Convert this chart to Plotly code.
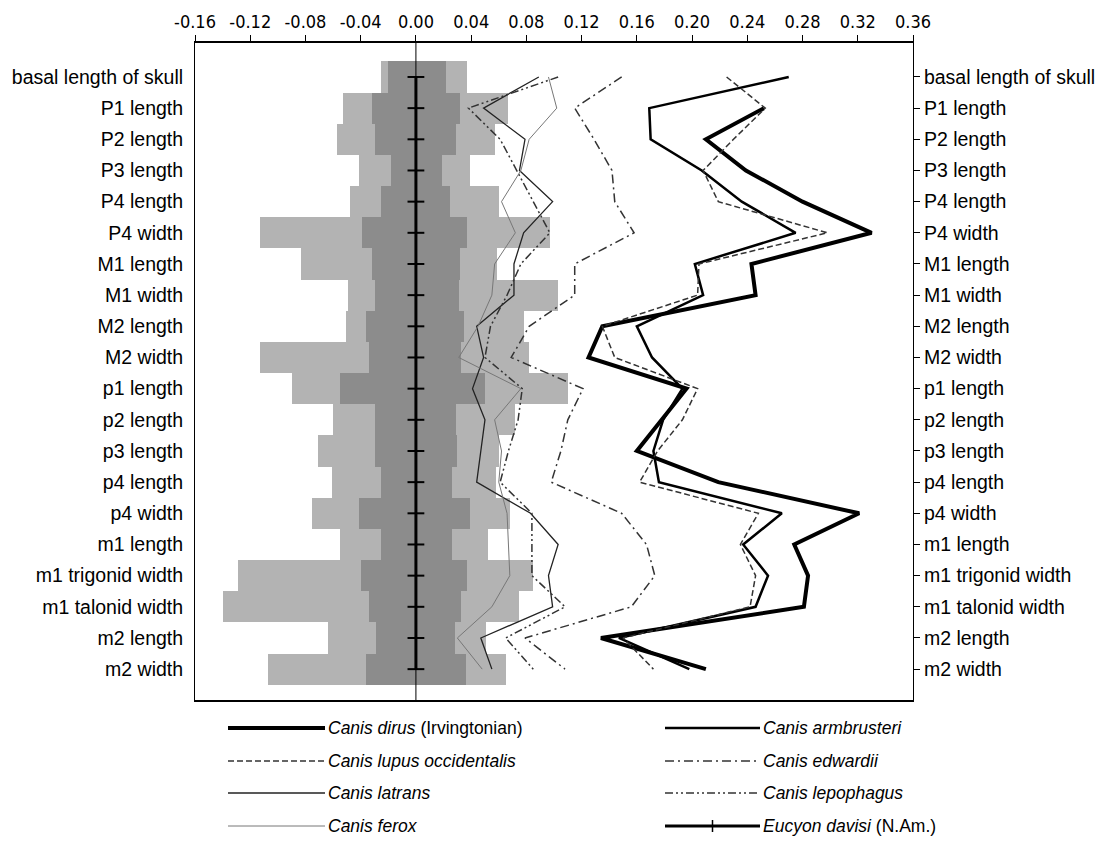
import plotly.graph_objects as go

measures = ["basal length of skull", "P1 length", "P2 length", "P3 length", "P4 length",
            "P4 width", "M1 length", "M1 width", "M2 length", "M2 width",
            "p1 length", "p2 length", "p3 length", "p4 length", "p4 width",
            "m1 length", "m1 trigonid width", "m1 talonid width", "m2 length", "m2 width"]

# grey range bars (outer = light, inner = dark)
light_lo = [-0.025, -0.053, -0.057, -0.041, -0.048, -0.113, -0.083, -0.049, -0.051, -0.113,
            -0.090, -0.060, -0.071, -0.061, -0.075, -0.055, -0.129, -0.140, -0.064, -0.107]
light_hi = [0.037, 0.067, 0.057, 0.039, 0.060, 0.097, 0.059, 0.103, 0.078, 0.082,
            0.110, 0.072, 0.060, 0.058, 0.068, 0.052, 0.085, 0.075, 0.051, 0.065]
dark_lo = [-0.020, -0.032, -0.030, -0.018, -0.025, -0.039, -0.032, -0.030, -0.036, -0.034,
           -0.055, -0.030, -0.030, -0.025, -0.041, -0.025, -0.040, -0.034, -0.029, -0.036]
dark_hi = [0.022, 0.032, 0.029, 0.019, 0.025, 0.037, 0.032, 0.031, 0.035, 0.033,
           0.050, 0.029, 0.030, 0.026, 0.039, 0.026, 0.037, 0.033, 0.028, 0.036]

dirus = [None, 0.252, 0.210, 0.239, 0.280, 0.330, 0.243, 0.246, 0.135, 0.125,
         0.196, 0.178, 0.160, 0.219, 0.321, 0.274, 0.284, 0.281, 0.134, 0.210]
armbrusteri = [0.270, 0.169, 0.170, 0.207, 0.236, 0.275, 0.202, 0.208, 0.160, 0.171,
               0.193, 0.179, 0.172, 0.176, 0.265, 0.237, 0.255, 0.246, 0.147, 0.198]
lupus = [0.225, 0.253, 0.230, 0.208, 0.219, 0.298, 0.205, 0.204, 0.135, 0.144,
         0.204, 0.193, 0.175, 0.162, 0.248, 0.235, 0.246, 0.242, 0.150, 0.172]
edwardii = [0.149, 0.115, 0.129, 0.142, 0.144, 0.158, 0.115, 0.115, 0.082, 0.069,
            0.121, 0.110, 0.105, 0.098, 0.149, 0.167, 0.173, 0.156, 0.079, 0.108]
latrans = [0.089, 0.049, 0.079, 0.075, 0.099, 0.078, 0.071, 0.071, 0.044, 0.049,
           0.041, 0.050, 0.047, 0.044, 0.083, 0.103, 0.096, 0.099, 0.047, 0.055]
lepophagus = [0.103, 0.038, 0.061, 0.073, 0.085, 0.097, 0.076, 0.066, 0.054, 0.050,
              0.077, 0.074, 0.067, 0.061, 0.084, 0.084, 0.084, 0.108, 0.065, 0.085]
ferox = [0.096, 0.102, 0.082, 0.076, 0.062, 0.072, 0.057, 0.055, 0.045, 0.031,
         0.076, 0.057, 0.062, 0.060, 0.066, 0.067, 0.068, 0.055, 0.030, 0.048]
eucyon = [0.0] * 20

tick_vals = [-0.16, -0.12, -0.08, -0.04, 0.0, 0.04, 0.08, 0.12, 0.16, 0.20, 0.24, 0.28, 0.32, 0.36]
tick_text = ["-0.16", "-0.12", "-0.08", "-0.04", "0.00", "0.04", "0.08", "0.12",
             "0.16", "0.20", "0.24", "0.28", "0.32", "0.36"]

# page is offset by the 8px body margin, so the figure is 8px smaller
W, H = 1105, 835
L, T, PW, PH = 187, 35, 718, 657

fig = go.Figure()

fig.add_trace(go.Bar(y=measures, x=[h - l for l, h in zip(light_lo, light_hi)], base=light_lo,
                     orientation="h", width=1, marker=dict(color="#b3b3b3", line_width=0),
                     showlegend=False, hoverinfo="skip"))
fig.add_trace(go.Bar(y=measures, x=[h - l for l, h in zip(dark_lo, dark_hi)], base=dark_lo,
                     orientation="h", width=1, marker=dict(color="#8c8c8c", line_width=0),
                     showlegend=False, hoverinfo="skip"))

series = [
    ("<i>Canis dirus</i> (Irvingtonian)", dirus, dict(color="black", width=4)),
    ("<i>Canis armbrusteri</i>", armbrusteri, dict(color="black", width=2.5)),
    ("<i>Canis lupus occidentalis</i>", lupus, dict(color="#333", width=1.5, dash="6px,3px")),
    ("<i>Canis edwardii</i>", edwardii, dict(color="#333", width=1.5, dash="9px,4px,2px,4px")),
    ("<i>Canis latrans</i>", latrans, dict(color="#222", width=1.3)),
    ("<i>Canis lepophagus</i>", lepophagus, dict(color="#333", width=1.5, dash="8px,3px,2px,3px,2px,3px")),
    ("<i>Canis ferox</i>", ferox, dict(color="#777", width=1)),
]

fig.add_vline(x=0, line=dict(color="black", width=1), layer="above")

for name, vals, ln in series:
    fig.add_trace(go.Scatter(x=vals, y=measures, mode="lines", line=ln, name=name,
                             showlegend=False, connectgaps=False))

fig.add_trace(go.Scatter(x=eucyon, y=measures, mode="lines+markers",
                         line=dict(color="black", width=3),
                         marker=dict(symbol="line-ew", size=12, line=dict(color="black", width=2)),
                         name="<i>Eucyon davisi</i> (N.Am.)", showlegend=False))

# right-hand copy of the category labels
fig.add_trace(go.Scatter(x=eucyon, y=measures, yaxis="y2", mode="lines",
                         line=dict(width=0), showlegend=False, hoverinfo="skip"))

# hand-drawn legend (two columns)
legend_items = [(s[0], s[2]) for s in series] + [("<i>Eucyon davisi</i> (N.Am.)", dict(color="black", width=3))]
order = [0, 2, 4, 6, 1, 3, 5, 7]
rows_y = [720, 753, 785, 818]
cols_x = [(220, 317), (657, 752)]


def px(x):
    return (x - L) / PW


def py(y):
    return (T + PH - y) / PH


for k, idx in enumerate(order):
    name, ln = legend_items[idx]
    col, row = divmod(k, 4)
    x0, x1 = cols_x[col]
    yy = rows_y[row]
    fig.add_shape(type="line", xref="paper", yref="paper",
                  x0=px(x0), x1=px(x1), y0=py(yy), y1=py(yy), line=dict(ln))
    if idx == 7:
        xm = (x0 + x1) / 2
        fig.add_shape(type="line", xref="paper", yref="paper",
                      x0=px(xm), x1=px(xm), y0=py(yy + 6), y1=py(yy - 6),
                      line=dict(color="black", width=1.5))
    fig.add_annotation(x=px(x1 + 1), y=py(yy), xref="paper", yref="paper",
                       text=name, showarrow=False, xanchor="left", yanchor="middle",
                       font=dict(family="Liberation Sans, Arial, sans-serif", size=17.5, color="black"))

fig.update_layout(
    width=W, height=H,
    margin=dict(l=L, r=W - L - PW, t=T, b=H - T - PH),
    plot_bgcolor="white", paper_bgcolor="white",
    barmode="overlay", bargap=0,
    showlegend=False,
    font=dict(family="Liberation Sans, Arial, sans-serif", size=19.5, color="black"),
    xaxis=dict(side="top", range=[-0.16, 0.36], tickvals=tick_vals, ticktext=tick_text,
               ticks="outside", ticklen=6, tickcolor="black", showline=True, linecolor="black",
               linewidth=1.5, mirror=True, showgrid=False, zeroline=False, automargin=False,
               tickfont=dict(family="Liberation Sans Narrow, DejaVu Sans Condensed, Arial Narrow, sans-serif", size=18)),
    yaxis=dict(type="category", categoryarray=measures, range=[19.99, -1.09], automargin=False,
               ticks="", showline=True, linecolor="black", linewidth=1, showgrid=False,
               ticklabelstandoff=7),
    yaxis2=dict(type="category", categoryarray=measures, range=[19.99, -1.09], automargin=False,
                overlaying="y", side="right", ticks="outside", ticklen=6, tickcolor="black",
                showline=True, linecolor="black", linewidth=1, showgrid=False),
)

fig.write_html("out.html")
